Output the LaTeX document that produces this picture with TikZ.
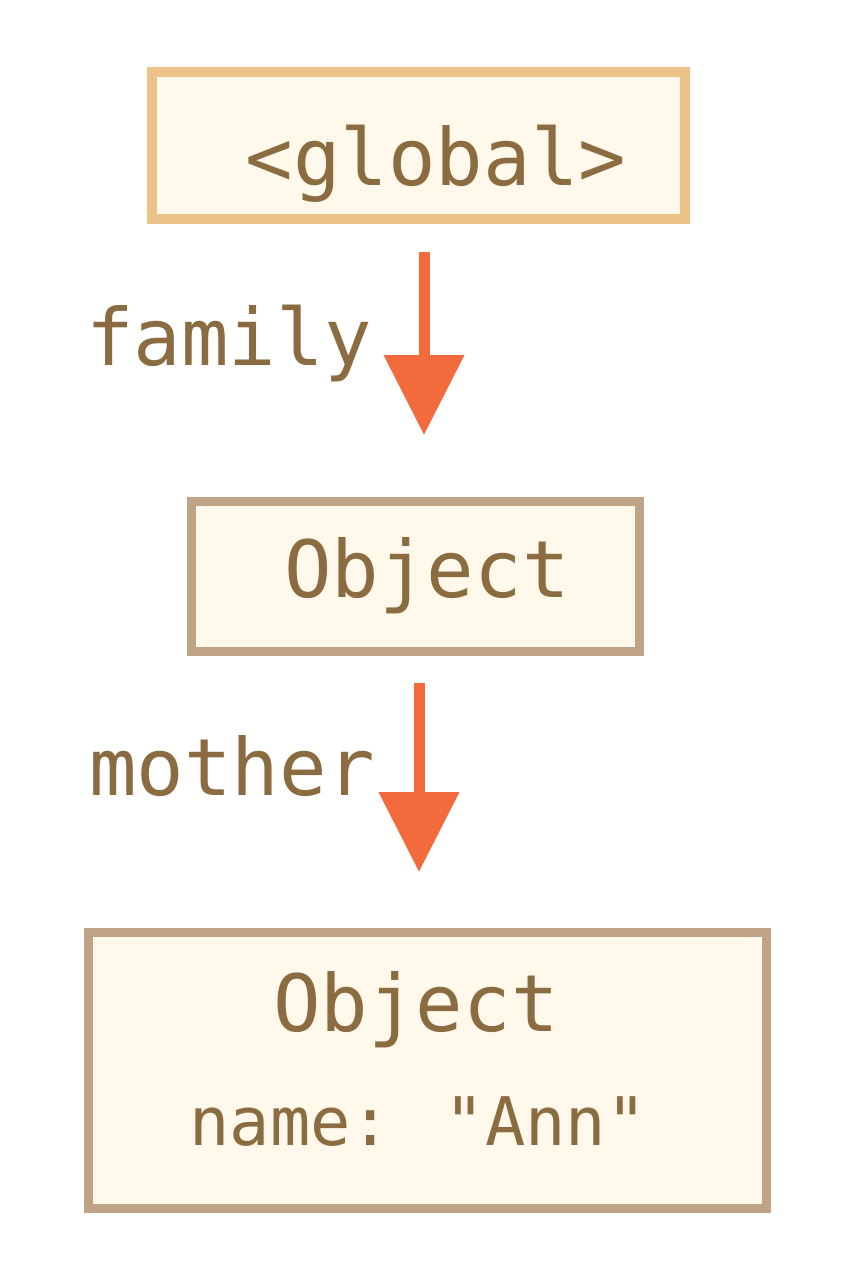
\documentclass[tikz,border=0pt]{standalone}
\usepackage{fontspec}
\newfontfamily\mono{DejaVu Sans Mono}
\usetikzlibrary{arrows.meta}
\definecolor{boxfill}{HTML}{FFF8EB}
\definecolor{globline}{HTML}{EBC287}
\definecolor{objline}{HTML}{C0A385}
\definecolor{txt}{HTML}{8B6B40}
\definecolor{arrc}{HTML}{F36B3C}
\tikzset{
  gbox/.style={draw=globline, line width=10pt, fill=boxfill, inner sep=0pt},
  obox/.style={draw=objline, line width=9pt, fill=boxfill, inner sep=0pt},
  lbl/.style={text=txt, inner sep=0pt, anchor=base, font=\mono\fontsize{79}{90}\selectfont},
  small/.style={lbl, font=\mono\fontsize{67}{80}\selectfont},
  arr/.style={draw=arrc, line width=11pt, -{Triangle[width=78pt,length=80pt]}}
}
\begin{document}
\begin{tikzpicture}[x=1pt,y=-1pt]
\useasboundingbox (0,0) rectangle (852,1280);
\fill[white] (0,0) rectangle (852,1280);
\node[gbox, minimum width=533pt, minimum height=147pt] (g) at (418.5,145.5) {};
\node[obox, minimum width=448pt, minimum height=150pt] (o1) at (415.5,576.5) {};
\node[obox, minimum width=678pt, minimum height=276pt] (o2) at (427.5,1070.5) {};
\node[lbl] (gt) at (436,185) {<global>};
\node[lbl] (o1t) at (427,597) {Object};
\node[lbl] (o2t) at (416,1031) {Object};
\node[small] (nt) at (418,1145) {name: "Ann"};
\coordinate (a1s) at (424,252);
\coordinate (a1e) at (424,435);
\coordinate (a2s) at (419,683);
\coordinate (a2e) at (419,872);
\draw[arr] (a1s) -- (a1e);
\draw[arr] (a2s) -- (a2e);
\node[lbl] (fam) at (229,365) {family};
\node[lbl] (mot) at (232,795) {mother};
\end{tikzpicture}
\end{document}
